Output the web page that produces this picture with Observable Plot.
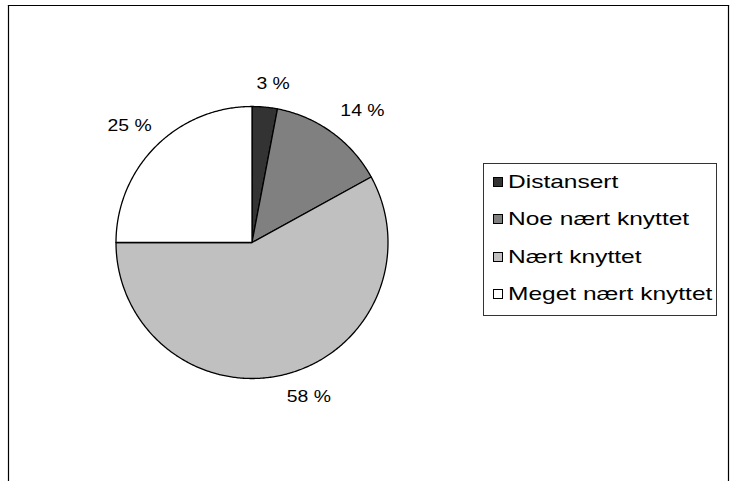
<!DOCTYPE html>
<html>
<head>
<meta charset="utf-8">
<script src="https://cdn.jsdelivr.net/npm/d3@7"></script>
<script src="https://cdn.jsdelivr.net/npm/@observablehq/plot@0.6"></script>
<style>
  body { margin: 0; background: #fff; font-family: "Liberation Sans", Arial, sans-serif; }
  #wrap { position: relative; width: 731px; height: 481px; overflow: hidden; }
  #legend { position: absolute; left: 483px; top: 163px; width: 234px; height: 153px;
    border: 1px solid #333; background: #fff; box-sizing: border-box; }
  .row { position: absolute; left: 9px; height: 20px; display: flex; align-items: center;
    color: #000; white-space: nowrap; }
  .sw { width: 10px; height: 10px; border: 1px solid #000; margin-right: 5px; flex: none; box-sizing: border-box; }
  .lt { display: inline-block; font-size: 19px; transform: scaleX(1.29); transform-origin: left center; }
</style>
</head>
<body>
<div id="wrap"></div>
<script>
const categories = ["Distansert", "Noe nært knyttet", "Nært knyttet", "Meget nært knyttet"];
const values = [3, 14, 58, 25];
const labels = ["3 %", "14 %", "58 %", "25 %"];
const colors = ["#333333", "#808080", "#c0c0c0", "#ffffff"];

// layout
const cx = 251.5, cy = 242, r = 136;
const labelGap = 18 / r;              // gap between pie edge and label box (unit radius)
const labelHalfW = [17, 22, 22, 22];  // approx half width of label boxes, px
const labelHalfH = 7;
const labelNudgeX = [5, 7, 13, 2];    // px
const labelNudgeY = [1, -2, -2, -3];  // px

const data = categories.map((c, i) => ({category: c, value: values[i], label: labels[i], color: colors[i]}));
const arcs = d3.pie().sort(null).value(d => d.value)(data);

// polygon points of each slice on a unit circle (angle clockwise from 12 o'clock)
const slicePts = [];
arcs.forEach((a, i) => {
  const n = Math.max(4, Math.ceil((a.endAngle - a.startAngle) / 0.01));
  slicePts.push({i, x: 0, y: 0});
  for (let k = 0; k <= n; k++) {
    const t = a.startAngle + (a.endAngle - a.startAngle) * k / n;
    slicePts.push({i, x: Math.sin(t), y: Math.cos(t)});
  }
  slicePts.push({i, x: 0, y: 0});
});

// label anchors outside the pie
const labelPts = arcs.map((a, i) => {
  const m = (a.startAngle + a.endAngle) / 2;
  const s = Math.sin(m), c = Math.cos(m);
  return {
    label: data[i].label,
    x: s * (1 + labelGap), y: c * (1 + labelGap),
    dx: s * labelHalfW[i] + labelNudgeX[i],
    dy: -c * labelHalfH + labelNudgeY[i]
  };
});

const chart = Plot.plot({
  width: 731,
  height: 481,
  marginLeft: 8, marginRight: 3, marginTop: 5, marginBottom: 0,
  x: {domain: [-1, 1], range: [cx - r, cx + r], axis: null},
  y: {domain: [-1, 1], range: [cy + r, cy - r], axis: null},
  style: {fontFamily: "Liberation Sans, Arial, sans-serif", background: "#fff"},
  marks: [
    Plot.frame({anchor: "top", stroke: "#000", strokeWidth: 1.2}),
    Plot.frame({anchor: "left", stroke: "#000", strokeWidth: 1.2}),
    Plot.frame({anchor: "right", stroke: "#000", strokeWidth: 1.2}),
    ...arcs.map((a, i) => Plot.line(slicePts.filter(p => p.i === i), {
      x: "x", y: "y", fill: colors[i], stroke: "#000", strokeWidth: 1.3,
      strokeLinejoin: "round", curve: "linear"
    })),
    ...labelPts.map(p => Plot.text([p], {
      x: "x", y: "y", text: "label", dx: p.dx, dy: p.dy,
      fontSize: 17, fill: "#000", className: "pielabel"
    }))
  ]
});

const wrap = document.getElementById("wrap");
wrap.appendChild(chart);

// horizontally widen the percentage labels like the reference rendering
chart.querySelectorAll(".pielabel text").forEach(t => {
  const w = t.getComputedTextLength();
  t.setAttribute("textLength", (w * 1.14).toFixed(1));
  t.setAttribute("lengthAdjust", "spacingAndGlyphs");
});

const legend = document.createElement("div");
legend.id = "legend";
const rowTops = [8, 45, 83, 120];
data.forEach((d, i) => {
  const row = document.createElement("div");
  row.className = "row";
  row.style.top = rowTops[i] + "px";
  const sw = document.createElement("span");
  sw.className = "sw";
  sw.style.background = d.color;
  const t = document.createElement("span");
  t.className = "lt";
  t.textContent = d.category;
  row.appendChild(sw); row.appendChild(t);
  legend.appendChild(row);
});
wrap.appendChild(legend);
</script>
</body>
</html>
